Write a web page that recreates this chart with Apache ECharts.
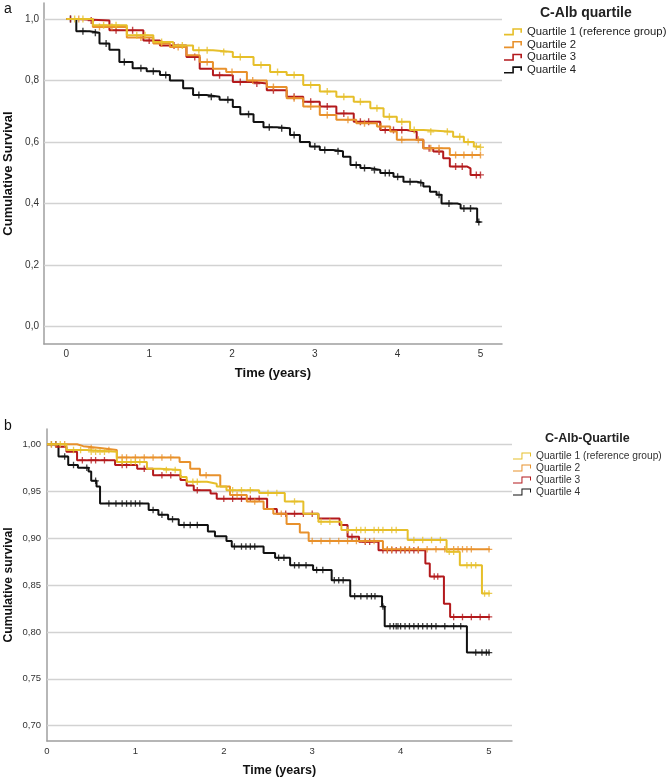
<!DOCTYPE html>
<html><head><meta charset="utf-8">
<script src="https://cdn.jsdelivr.net/npm/echarts@6/dist/echarts.min.js"></script>
<style>html,body{margin:0;padding:0;background:#fff}#c{width:669px;height:779px}</style>
</head><body><div id="c"></div>
<script>
const names = ['Quartile 1 (reference group)', 'Quartile 2', 'Quartile 3', 'Quartile 4'];
const colors = ['#e6bf2a', '#e8912c', '#b3191c', '#111111'];
const xTicks = [0, 1, 2, 3, 4, 5];
const yTicksA = [0, 0.2, 0.4, 0.6, 0.8, 1.0];
const yTicksB = [0.70, 0.75, 0.80, 0.85, 0.90, 0.95, 1.00];

// ---------- Panel a : event times / survival / censor times ----------
const aQ1t = [0, 0.32, 0.73, 1.05, 1.29, 1.53, 1.77, 2.01, 2.26, 2.46, 2.66, 2.86, 3.06, 3.26, 3.47, 3.67, 3.83, 3.99, 4.15, 4.31, 4.67, 4.8, 4.92, 5.0];
const aQ1s = [1.0, 0.98, 0.947, 0.925, 0.914, 0.898, 0.893, 0.876, 0.85, 0.828, 0.818, 0.785, 0.764, 0.747, 0.731, 0.71, 0.682, 0.666, 0.639, 0.633, 0.617, 0.60, 0.585, 0.583];
const aQ1c = [0.1, 0.2, 0.45, 0.6, 0.85, 0.95, 1.15, 1.4, 1.6, 1.7, 1.9, 2.1, 2.35, 2.55, 2.75, 2.95, 3.15, 3.35, 3.55, 3.75, 3.9, 4.05, 4.2, 4.4, 4.6, 4.75, 4.85, 4.95, 5.0];

const aQ2t = [0, 0.32, 0.73, 1.05, 1.25, 1.45, 1.61, 1.77, 1.93, 2.18, 2.42, 2.66, 2.86, 3.06, 3.26, 3.5, 3.75, 3.91, 3.99, 4.31, 4.63, 5.0];
const aQ2s = [1.0, 0.974, 0.94, 0.92, 0.909, 0.882, 0.86, 0.838, 0.828, 0.80, 0.779, 0.742, 0.715, 0.688, 0.672, 0.661, 0.65, 0.634, 0.607, 0.58, 0.558, 0.558];
const aQ2c = [0.15, 0.4, 0.55, 0.9, 1.15, 1.35, 1.7, 2.0, 2.25, 2.5, 2.75, 2.95, 3.15, 3.4, 3.6, 3.8, 4.05, 4.25, 4.4, 4.5, 4.7, 4.8, 4.9, 5.0];

const aQ3t = [0, 0.12, 0.52, 0.93, 1.13, 1.45, 1.61, 1.77, 2.01, 2.26, 2.42, 2.66, 2.86, 3.06, 3.26, 3.47, 3.79, 4.11, 4.23, 4.31, 4.43, 4.55, 4.63, 4.84, 4.88, 5.0];
const aQ3s = [1.0, 0.995, 0.963, 0.93, 0.914, 0.876, 0.838, 0.817, 0.795, 0.79, 0.768, 0.747, 0.731, 0.715, 0.693, 0.666, 0.639, 0.633, 0.607, 0.58, 0.569, 0.547, 0.52, 0.514, 0.493, 0.493];
const aQ3c = [0.05, 0.3, 0.6, 0.8, 1.0, 1.3, 1.55, 1.85, 2.1, 2.3, 2.5, 2.75, 2.95, 3.15, 3.35, 3.55, 3.65, 3.85, 3.95, 4.05, 4.38, 4.5, 4.7, 4.78, 4.95, 5.0];

const aQ4t = [0, 0.12, 0.28, 0.4, 0.52, 0.64, 0.8, 0.97, 1.13, 1.25, 1.41, 1.53, 1.69, 1.85, 2.01, 2.1, 2.26, 2.38, 2.54, 2.7, 2.82, 2.94, 3.06, 3.22, 3.34, 3.43, 3.55, 3.67, 3.79, 3.95, 4.07, 4.23, 4.31, 4.39, 4.47, 4.53, 4.72, 4.76, 4.96, 5.0];
const aQ4s = [1.0, 0.96, 0.955, 0.92, 0.90, 0.86, 0.84, 0.83, 0.818, 0.80, 0.775, 0.753, 0.747, 0.737, 0.714, 0.69, 0.665, 0.648, 0.645, 0.623, 0.60, 0.585, 0.574, 0.57, 0.552, 0.525, 0.515, 0.509, 0.499, 0.487, 0.471, 0.467, 0.455, 0.438, 0.428, 0.40, 0.397, 0.384, 0.34, 0.34];
const aQ4c = [0.05, 0.2, 0.35, 0.48, 0.7, 0.9, 1.05, 1.2, 1.6, 1.75, 1.95, 2.2, 2.45, 2.6, 2.75, 3.0, 3.12, 3.28, 3.5, 3.6, 3.72, 3.85, 3.9, 4.0, 4.15, 4.28, 4.5, 4.62, 4.8, 4.88, 4.98];

// ---------- Panel b ----------
const bQ1t = [0, 0.22, 0.45, 0.79, 1.13, 1.28, 1.51, 1.58, 1.81, 1.92, 2.03, 2.4, 2.69, 2.9, 3.07, 3.33, 4.08, 4.52, 4.67, 4.92, 5.01];
const bQ1s = [1.0, 0.994, 0.992, 0.981, 0.974, 0.9725, 0.965, 0.96, 0.958, 0.955, 0.951, 0.948, 0.939, 0.926, 0.9175, 0.9086, 0.898, 0.8855, 0.871, 0.841, 0.841];
const bQ1c = [0.05, 0.15, 0.3, 0.38, 0.5, 0.55, 0.6, 0.65, 0.85, 0.95, 1.0, 1.05, 1.35, 1.45, 1.65, 1.7, 2.1, 2.2, 2.3, 2.5, 2.6, 2.8, 3.1, 3.2, 3.4, 3.5, 3.55, 3.6, 3.7, 3.75, 3.8, 3.9, 3.95, 4.15, 4.25, 4.35, 4.45, 4.55, 4.6, 4.75, 4.8, 4.85, 4.95, 5.0];

const bQ2t = [0, 0.34, 0.41, 0.6, 0.79, 1.5, 1.62, 1.73, 1.96, 2.07, 2.26, 2.45, 2.56, 2.71, 2.86, 2.96, 3.8, 5.01];
const bQ2s = [1.0, 0.998, 0.996, 0.994, 0.986, 0.981, 0.974, 0.967, 0.955, 0.946, 0.939, 0.931, 0.926, 0.915, 0.906, 0.897, 0.888, 0.888];
const bQ2c = [0.1, 0.2, 0.5, 0.7, 0.85, 0.9, 1.0, 1.1, 1.2, 1.3, 1.4, 1.8, 2.15, 2.35, 2.65, 3.0, 3.1, 3.2, 3.3, 3.4, 3.5, 3.6, 3.7, 3.85, 3.9, 4.0, 4.05, 4.1, 4.2, 4.3, 4.4, 4.5, 4.6, 4.65, 4.7, 4.75, 4.8, 5.0];

const bQ3t = [0, 0.1, 0.22, 0.34, 0.77, 1.02, 1.2, 1.51, 1.58, 1.66, 1.85, 1.92, 2.49, 2.6, 3.07, 3.31, 3.4, 3.53, 3.75, 4.28, 4.33, 4.49, 4.56, 5.01];
const bQ3s = [1.0, 0.9975, 0.992, 0.983, 0.978, 0.974, 0.967, 0.962, 0.956, 0.951, 0.9475, 0.942, 0.931, 0.926, 0.921, 0.914, 0.9015, 0.896, 0.887, 0.873, 0.859, 0.83, 0.816, 0.816];
const bQ3c = [0.05, 0.4, 0.5, 0.55, 0.65, 0.85, 0.9, 1.1, 1.3, 1.4, 1.7, 2.0, 2.1, 2.2, 2.3, 2.4, 2.7, 2.8, 2.9, 3.0, 3.45, 3.6, 3.65, 3.8, 3.85, 3.9, 3.95, 4.0, 4.05, 4.1, 4.15, 4.2, 4.38, 4.42, 4.6, 4.7, 4.8, 4.9, 5.0];

const bQ4t = [0, 0.13, 0.24, 0.35, 0.47, 0.5, 0.56, 0.6, 1.15, 1.26, 1.37, 1.49, 1.82, 1.9, 2.03, 2.09, 2.45, 2.58, 2.75, 3.01, 3.22, 3.43, 3.79, 3.82, 4.75, 5.01];
const bQ4s = [1.0, 0.987, 0.978, 0.975, 0.971, 0.961, 0.955, 0.937, 0.93, 0.925, 0.92, 0.914, 0.907, 0.902, 0.897, 0.891, 0.884, 0.879, 0.871, 0.866, 0.855, 0.838, 0.827, 0.806, 0.778, 0.778];
const bQ4c = [0.1, 0.2, 0.3, 0.45, 0.55, 0.7, 0.78, 0.85, 0.9, 0.95, 1.0, 1.05, 1.2, 1.3, 1.42, 1.55, 1.62, 1.7, 2.12, 2.2, 2.25, 2.3, 2.35, 2.62, 2.68, 2.8, 2.85, 2.93, 3.05, 3.12, 3.25, 3.3, 3.35, 3.48, 3.55, 3.62, 3.67, 3.71, 3.8, 3.88, 3.92, 3.95, 3.97, 4.0, 4.05, 4.1, 4.15, 4.2, 4.25, 4.3, 4.35, 4.4, 4.5, 4.6, 4.68, 4.85, 4.92, 4.97, 5.0];

const panelA = [[aQ1t, aQ1s, aQ1c], [aQ2t, aQ2s, aQ2c], [aQ3t, aQ3s, aQ3c], [aQ4t, aQ4s, aQ4c]];
const panelB = [[bQ1t, bQ1s, bQ1c], [bQ2t, bQ2s, bQ2c], [bQ3t, bQ3s, bQ3c], [bQ4t, bQ4s, bQ4c]];

function survAt(ts, ss, t) {
  let v = ss[0];
  for (let i = 0; i < ts.length; i++) { if (ts[i] <= t) v = ss[i]; }
  return v;
}
const plus = 'path://M2.4,0H3.6V2.4H6V3.6H3.6V6H2.4V3.6H0V2.4H2.4Z';
const FONT = '"Liberation Sans", Arial, sans-serif';

const series = [];
function gridSeries(idx, ticks) {
  series.push({
    type: 'line', xAxisIndex: idx, yAxisIndex: idx, data: [], silent: true,
    markLine: {
      silent: true, symbol: 'none', z: 1, animation: false,
      label: { show: false }, emphasis: { disabled: true },
      lineStyle: { color: '#d2d2d2', width: 1.3, type: 'solid' },
      data: ticks.map(v => ({ yAxis: v }))
    }
  });
}
gridSeries(0, yTicksA);
gridSeries(1, yTicksB);
function addPanel(panel, idx, lw, ms) {
  panel.forEach((p, i) => {
    const [ts, ss, cs] = p;
    series.push({
      name: names[i], type: 'line', xAxisIndex: idx, yAxisIndex: idx, step: 'end',
      symbol: 'none', showSymbol: false, z: 3 + (3 - i),
      lineStyle: { width: lw, color: colors[i] }, itemStyle: { color: colors[i] },
      data: ts.map((t, k) => [t, ss[k]])
    });
    series.push({
      name: names[i], type: 'scatter', xAxisIndex: idx, yAxisIndex: idx,
      symbol: plus, symbolSize: ms, z: 3 + (3 - i),
      itemStyle: { color: colors[i] },
      data: cs.map(t => [t, survAt(ts, ss, t)])
    });
  });
}
addPanel(panelA, 0, 2, 7);
addPanel(panelB, 1, 2, 6.5);

const axisLineStyle = { onZero: false, lineStyle: { color: '#9f9f9f', width: 1.5 } };
const chart = echarts.init(document.getElementById('c'), null, { renderer: 'canvas' });
chart.setOption({
  animation: false,
  backgroundColor: '#fff',
  textStyle: { fontFamily: FONT },
  title: [
    { text: 'a', left: 4, top: 2, padding: 0, textStyle: { fontSize: 14, fontWeight: 'normal', color: '#111', fontFamily: FONT } },
    { text: 'C-Alb quartile', left: 540, top: 6, padding: 0, textStyle: { fontSize: 14, fontWeight: 'bold', color: '#222', fontFamily: FONT } },
    { text: 'b', left: 4, top: 419, padding: 0, textStyle: { fontSize: 14, fontWeight: 'normal', color: '#111', fontFamily: FONT } },
    { text: 'C-Alb-Quartile', left: 545, top: 432, padding: 0, textStyle: { fontSize: 12.5, fontWeight: 'bold', color: '#222', fontFamily: FONT } }
  ],
  legend: [
    {
      data: names, orient: 'vertical', left: 504, top: 25.5, padding: 0, itemGap: 0,
      itemWidth: 18, itemHeight: 8, selectedMode: false,
      icon: 'path://M0,6.2H9.2V0H20V5H18.2V1.8H11V8H0Z',
      textStyle: { fontSize: 11.3, lineHeight: 12.7, color: '#222', fontFamily: FONT }
    },
    {
      data: names, orient: 'vertical', left: 513, top: 450, padding: 0, itemGap: 0,
      itemWidth: 18, itemHeight: 8, selectedMode: false,
      icon: 'path://M0,6.9H9.4V0H20V4.5H18.9V1.1H10.5V8H0Z',
      textStyle: { fontSize: 10.2, lineHeight: 12, color: '#333', fontFamily: FONT }
    }
  ],
  grid: [
    { left: 44, top: 3, width: 458, height: 341, containLabel: false, outerBoundsMode: 'none' },
    { left: 47, top: 429, width: 465, height: 312, containLabel: false, outerBoundsMode: 'none' }
  ],
  xAxis: [
    {
      gridIndex: 0, type: 'value', min: -0.27, max: 5.26,
      name: 'Time (years)', nameLocation: 'middle', nameGap: 23,
      nameTextStyle: { fontSize: 13, fontWeight: 'bold', color: '#111', fontFamily: FONT },
      axisLine: axisLineStyle, axisTick: { show: false }, splitLine: { show: false },
      axisLabel: { customValues: xTicks, fontSize: 10, color: '#333', margin: 5, fontFamily: FONT, formatter: v => String(Math.round(v)) }
    },
    {
      gridIndex: 1, type: 'value', min: 0, max: 5.26,
      name: 'Time (years)', nameLocation: 'middle', nameGap: 23,
      nameTextStyle: { fontSize: 12.5, fontWeight: 'bold', color: '#111', fontFamily: FONT },
      axisLine: axisLineStyle, axisTick: { show: false }, splitLine: { show: false },
      axisLabel: { customValues: xTicks, fontSize: 9.5, color: '#333', margin: 5, fontFamily: FONT, formatter: v => String(Math.round(v)) }
    }
  ],
  yAxis: [
    {
      gridIndex: 0, type: 'value', min: -0.057, max: 1.052,
      name: 'Cumulative Survival', nameLocation: 'middle', nameGap: 29, nameMoveOverlap: false,
      nameTextStyle: { fontSize: 13, fontWeight: 'bold', color: '#111', fontFamily: FONT },
      axisLine: { show: true, ...axisLineStyle }, axisTick: { show: false }, splitLine: { show: false },
      axisLabel: { customValues: yTicksA, fontSize: 10, color: '#333', margin: 5, fontFamily: FONT, formatter: v => v.toFixed(1).replace('.', ',') }
    },
    {
      gridIndex: 1, type: 'value', min: 0.6837, max: 1.0163,
      name: 'Cumulative survival', nameLocation: 'middle', nameGap: 32, nameMoveOverlap: false,
      nameTextStyle: { fontSize: 12.2, fontWeight: 'bold', color: '#111', fontFamily: FONT },
      axisLine: { show: true, ...axisLineStyle }, axisTick: { show: false }, splitLine: { show: false },
      axisLabel: { customValues: yTicksB, fontSize: 9.5, color: '#333', margin: 6, fontFamily: FONT, formatter: v => v.toFixed(2).replace('.', ',') }
    }
  ],
  series: series
});
</script>
</body></html>
